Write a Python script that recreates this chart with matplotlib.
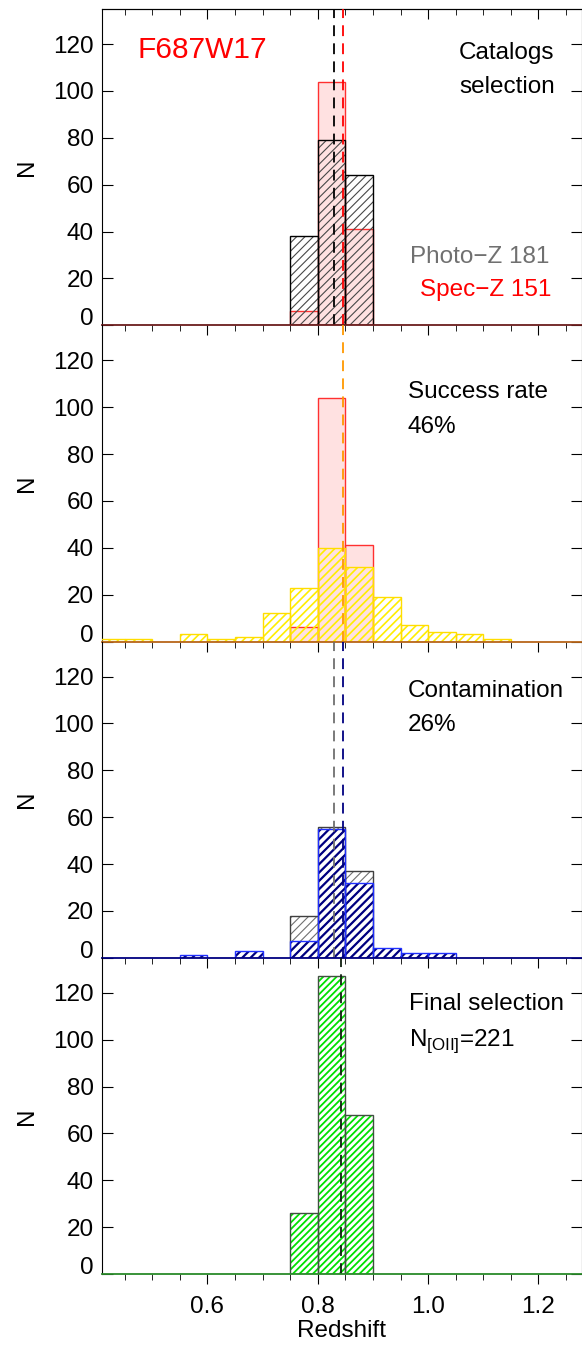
import matplotlib
matplotlib.use('Agg')
import matplotlib.pyplot as plt
import numpy as np

plt.rcParams['font.family'] = ['Liberation Sans', 'DejaVu Sans']
plt.rcParams['mathtext.fontset'] = 'custom'
plt.rcParams['mathtext.rm'] = 'Liberation Sans'
plt.rcParams['hatch.linewidth'] = 0.8

# datos: bordes izquierdos de bins (ancho 0.05) y cuentas
ancho = 0.05

# panel 1: catalogos
photz_bins = [0.75, 0.80, 0.85]
photz_n = [38, 79, 64]
specz_bins = [0.75, 0.80, 0.85]
specz_n = [6, 104, 41]

# panel 2: tasa de exito
exito_bins = [0.40, 0.45, 0.55, 0.60, 0.65, 0.70, 0.75, 0.80, 0.85, 0.90, 0.95, 1.00, 1.05, 1.10]
exito_n = [1, 1, 3, 1, 2, 12, 23, 40, 32, 19, 7, 4, 3, 1]

# panel 3: contaminacion
cont_gris_bins = [0.75, 0.80, 0.85]
cont_gris_n = [18, 56, 37]
cont_azul_bins = [0.55, 0.65, 0.75, 0.80, 0.85, 0.90, 0.95, 1.00]
cont_azul_n = [1, 3, 7, 55, 32, 4, 2, 2]

# panel 4: seleccion final
final_bins = [0.75, 0.80, 0.85]
final_n = [26, 127, 68]

# medianas (lineas verticales)
med_photz = 0.830
med_specz = 0.845
med_final = 0.842

W, H = 582, 1346
fig = plt.figure(figsize=(W / 100, H / 100), dpi=100)

left_px, right_px = 102, 581.5
top_px, bot_px = 9, 1274
alto = (bot_px - top_px) / 4

ejes = []
for i in range(4):
    y0 = top_px + i * alto
    ax = fig.add_axes([left_px / W, 1 - (y0 + alto) / H, (right_px - left_px) / W, alto / H])
    ax.set_facecolor('none')
    ejes.append(ax)


def barras(ax, bins, n, hatch=None, hatch_col=None, edge_col='k', fill=None, hatch_lw=None, z=2):
    if fill is not None:
        ax.bar(bins, n, width=ancho, align='edge', color=fill, edgecolor='none', zorder=z)
    if hatch is not None:
        b = ax.bar(bins, n, width=ancho, align='edge', fill=False, edgecolor=hatch_col,
                   linewidth=0, hatch=hatch, zorder=z + 0.1)
        if hatch_lw is not None:
            for p in b:
                if hasattr(p, 'set_hatch_linewidth'):
                    p.set_hatch_linewidth(hatch_lw)
    ax.bar(bins, n, width=ancho, align='edge', fill=False, edgecolor=edge_col,
           linewidth=1.0, zorder=z + 0.2)


def vlinea(ax, x, color):
    ax.axvline(x, color=color, lw=1.3, dashes=(6, 4), zorder=5)


ax1, ax2, ax3, ax4 = ejes

# panel 1
barras(ax1, specz_bins, specz_n, fill='#ffe1e1', edge_col='#ff3030', z=2)
barras(ax1, photz_bins, photz_n, hatch='////', hatch_col='#484848', edge_col='k', z=3)
vlinea(ax1, med_photz, 'k')
vlinea(ax1, med_specz, 'red')
ax1.text(0.073, 0.870, 'F687W17', color='red', fontsize=21.5, ha='left', va='center',
         transform=ax1.transAxes)
ax1.text(0.944, 0.861, 'Catalogs', fontsize=17.5, ha='right', va='center', transform=ax1.transAxes)
ax1.text(0.944, 0.753, 'selection', fontsize=17.5, ha='right', va='center', transform=ax1.transAxes)
ax1.text(0.933, 0.215, 'Photo\u2212Z 181', color='#707070', fontsize=17.5, ha='right', va='center',
         transform=ax1.transAxes)
ax1.text(0.9375, 0.111, 'Spec\u2212Z 151', color='red', fontsize=17.5, ha='right', va='center',
         transform=ax1.transAxes)

# panel 2
barras(ax2, specz_bins, specz_n, fill='#ffe1e1', edge_col='#ff3030', z=2)
barras(ax2, exito_bins, exito_n, hatch='////', hatch_col='#ffee00', edge_col='#ffdd00',
       hatch_lw=1.2, z=3)
vlinea(ax2, med_specz, '#ff9900')
ax2.text(0.6375, 0.789, 'Success rate', fontsize=17.5, ha='left', va='center', transform=ax2.transAxes)
ax2.text(0.6375, 0.678, '46%', fontsize=17.5, ha='left', va='center', transform=ax2.transAxes)

# panel 3
barras(ax3, cont_gris_bins, cont_gris_n, hatch='////', hatch_col='#707070', edge_col='#404040', z=2)
barras(ax3, cont_azul_bins, cont_azul_n, hatch='////', hatch_col='#000080', edge_col='#2030ff',
       hatch_lw=1.6, z=3)
vlinea(ax3, med_photz, '#707070')
vlinea(ax3, med_specz, '#000080')
ax3.text(0.6375, 0.842, 'Contamination', fontsize=17.5, ha='left', va='center', transform=ax3.transAxes)
ax3.text(0.6375, 0.736, '26%', fontsize=17.5, ha='left', va='center', transform=ax3.transAxes)

# panel 4
barras(ax4, final_bins, final_n, hatch='/////', hatch_col='#00e000', edge_col='#405040',
       hatch_lw=1.3, z=2)
vlinea(ax4, med_final, '#102010')
ax4.text(0.6395, 0.854, 'Final selection', fontsize=17.5, ha='left', va='center', transform=ax4.transAxes)
ax4.text(0.6395, 0.7215, r'N$_{\mathrm{[OII]}}$=221', fontsize=17.5, ha='left', va='baseline',
         transform=ax4.transAxes)

colores_base = ['#6b1c1c', '#b8661a', '#000080', '#2a8a2a']

for i, ax in enumerate(ejes):
    ax.set_xlim(0.409, 1.278)
    ax.set_ylim(0, 135)
    ax.set_xticks([0.6, 0.8, 1.0, 1.2])
    ax.set_xticks(np.arange(0.45, 1.28, 0.05), minor=True)
    ax.set_yticks([0, 20, 40, 60, 80, 100, 120])
    ax.tick_params(axis='x', which='both', bottom=True, top=False, direction='out',
                   labelsize=17.5, pad=9)
    ax.tick_params(axis='x', which='major', length=7)
    ax.tick_params(axis='x', which='minor', length=4.5)
    ax.tick_params(axis='y', which='major', left=True, right=True, direction='in', length=8,
                   labelsize=17.5, pad=6)
    ax.set_ylabel('N', fontsize=17.5, labelpad=11)
    ax.spines['bottom'].set_color(colores_base[i])
    ax.spines['bottom'].set_zorder(6)
    ax.spines['bottom'].set_linewidth(1.3)
    if i > 0:
        ax.spines['top'].set_visible(False)
    if i < 3:
        ax.tick_params(axis='x', labelbottom=False)
    for lab in ax.get_yticklabels():
        if lab.get_text() == '0':
            lab.set_va('baseline')

# ticks superiores del primer panel (hacia dentro)
sec = ax1.secondary_xaxis('top')
sec.set_xticks([0.6, 0.8, 1.0, 1.2])
sec.set_xticks(np.arange(0.45, 1.28, 0.05), minor=True)
sec.tick_params(axis='x', which='both', direction='in', labeltop=False)
sec.tick_params(axis='x', which='major', length=7)
sec.tick_params(axis='x', which='minor', length=4.5)

ax4.set_xlabel('Redshift', fontsize=17.5, labelpad=1)

fig.savefig('out.png', dpi=100)
